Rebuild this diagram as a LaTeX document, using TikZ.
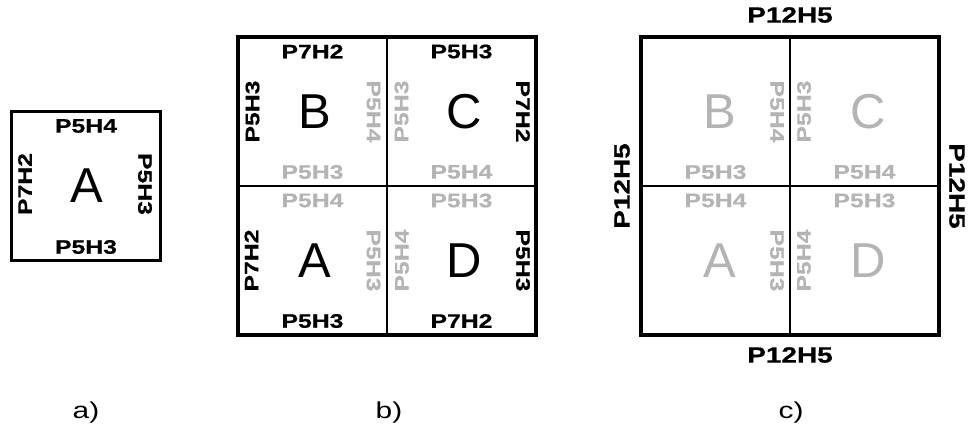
\documentclass[tikz,border=0pt]{standalone}
\usepackage{fontspec}
\setmainfont{Liberation Sans}
\newfontfamily\rimfont[FakeStretch=1.27,FakeBold=0.6]{Liberation Sans}
\newfontfamily\capfont[FakeStretch=1.3]{Liberation Sans}
\definecolor{palegrey}{RGB}{180,180,180}

\tikzset{
	rim/.style={font={\rimfont\bfseries\fontsize{19.5}{20}\selectfont}, inner sep=0pt},
	outside/.style={font={\rimfont\bfseries\fontsize{22}{22}\selectfont}, inner sep=0pt},
	pale/.style={text=palegrey},
	up/.style={rotate=90},
	down/.style={rotate=-90},
	letter/.style={font={\fontsize{49}{49}\selectfont}, inner sep=0pt},
	caption/.style={font={\capfont\fontsize{23}{23}\selectfont}, inner sep=0pt},
	outline/.style={line width=3.4pt},
	divider/.style={line width=1.6pt},
}

\begin{document}
\begin{tikzpicture}[x=1pt,y=-1pt]
	\useasboundingbox (0,0) rectangle (969,430);

	% a) single tile
	\draw[outline] (11.5,111.5) rectangle (160.5,260.5);
	\node[letter] at (87,186) (aA) {A};
	\node[rim] at (86,126) (aN) {P5H4};
	\node[rim] at (86,247) (aS) {P5H3};
	\node[rim,up] at (25,184) (aW) {P7H2};
	\node[rim,down] at (145,184) (aE) {P5H3};

	% b) four tiles
	\draw[divider] (387,37) -- (387,335);
	\draw[divider] (238,186) -- (536,186);
	\draw[outline] (238,37) rectangle (536,335);

	\node[letter] at (315,112) (bB) {B};
	\node[rim] at (312.5,51.5) (bBn) {P7H2};
	\node[rim,up] at (252.5,111.5) (bBw) {P5H3};
	\node[rim,down,pale] at (373.5,111.5) (bBe) {P5H4};
	\node[rim,pale] at (312.5,172) (bBs) {P5H3};

	\node[letter] at (464,112) (bC) {C};
	\node[rim] at (461.5,51.5) (bCn) {P5H3};
	\node[rim,up,pale] at (401.5,111.5) (bCw) {P5H3};
	\node[rim,down] at (523,111.5) (bCe) {P7H2};
	\node[rim,pale] at (461.5,172) (bCs) {P5H4};

	\node[letter] at (315,261) (bA) {A};
	\node[rim,pale] at (312.5,200.5) (bAn) {P5H4};
	\node[rim,up] at (251.5,260.5) (bAw) {P7H2};
	\node[rim,down,pale] at (373.5,260.5) (bAe) {P5H3};
	\node[rim] at (312.5,321) (bAs) {P5H3};

	\node[letter] at (464,261) (bD) {D};
	\node[rim,pale] at (461.5,200.5) (bDn) {P5H3};
	\node[rim,up,pale] at (402,260.5) (bDw) {P5H4};
	\node[rim,down] at (523,260.5) (bDe) {P5H3};
	\node[rim] at (461.5,321) (bDs) {P7H2};

	% c) joined block
	\draw[divider] (790,37) -- (790,335);
	\draw[divider] (641,186) -- (939,186);
	\draw[outline] (641,37) rectangle (939,335);

	\node[outside] at (790,15) (cN) {P12H5};
	\node[outside] at (790,355) (cS) {P12H5};
	\node[outside,up] at (622,186) (cW) {P12H5};
	\node[outside,down] at (957,186) (cE) {P12H5};

	\node[letter,pale] at (720,112) (cB) {B};
	\node[rim,down,pale] at (777,111.5) (cBe) {P5H4};
	\node[rim,pale] at (715.5,172) (cBs) {P5H3};

	\node[letter,pale] at (868,112) (cC) {C};
	\node[rim,up,pale] at (804,111.5) (cCw) {P5H3};
	\node[rim,pale] at (864.5,172) (cCs) {P5H4};

	\node[letter,pale] at (720,261) (cA) {A};
	\node[rim,pale] at (715.5,200.5) (cAn) {P5H4};
	\node[rim,down,pale] at (777,260.5) (cAe) {P5H3};

	\node[letter,pale] at (868,261) (cD) {D};
	\node[rim,pale] at (864.5,200.5) (cDn) {P5H3};
	\node[rim,up,pale] at (804,260.5) (cDw) {P5H4};

	% captions
	\node[caption] at (86,413) (capa) {a)};
	\node[caption] at (389,413) (capb) {b)};
	\node[caption] at (791,413) (capc) {c)};
\end{tikzpicture}
\end{document}
